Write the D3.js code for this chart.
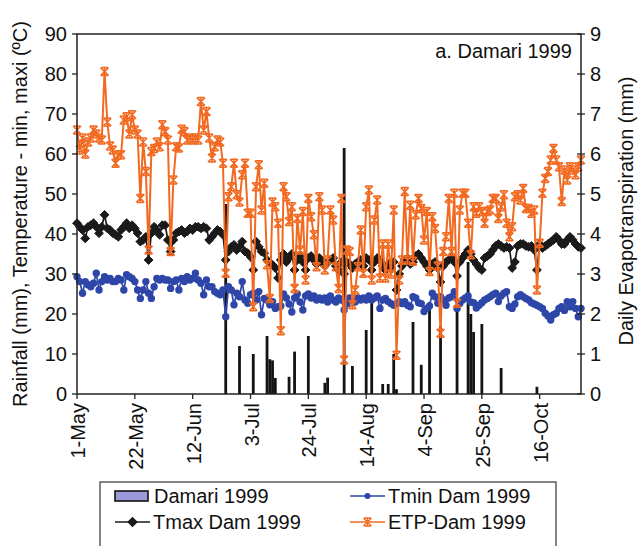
<!DOCTYPE html>
<html>

<head>
    <meta charset="utf-8">
    <title>Damari 1999</title>
    <script type="text/javascript" src="https://d3js.org/d3.v7.min.js"></script>

    <style>
        body {
            margin: 0;
            background: #fff;
        }

        svg {
            display: block;
        }

        text {
            font-family: "Liberation Sans", Arial, sans-serif;
            font-size: 20px;
            fill: #111;
        }
    </style>

</head>

<body>
</body>

<script type="text/javascript">
    // daily series, 1 May 1999 -> 31 Oct 1999 (184 days)
    var startDate = "1-May-1999";
    var endDate = "31-Oct-1999";

    var tmax = [
        42.7, 41.8, 41.0, 38.9, 41.8, 42.2, 42.7, 41.8, 40.2, 41.8, 44.8, 41.4, 41.0, 40.2, 39.8, 39.3, 41.0, 41.8, 42.7, 41.4,
        42.2, 41.4, 40.2, 38.1, 38.5, 39.3, 33.5, 40.2, 41.8, 41.0, 39.8, 42.2, 42.2, 38.5, 35.6, 38.5, 40.2,
        40.6, 41.0, 40.2, 40.6, 41.4, 41.0, 41.8, 41.8, 41.4, 41.8, 41.4, 38.5, 39.3, 40.2, 41.0, 40.6, 39.8, 33.5, 35.6, 36.8,
        37.3, 36.0, 36.8, 38.1, 35.6, 35.2, 34.3, 31.0, 38.1, 36.8, 35.6, 35.2, 33.5, 32.7, 32.3, 31.5, 29.0,
        33.5, 35, 33, 34, 35, 31, 33.5, 34.5, 33, 31, 34, 34.5, 33.5, 32.5, 34, 33, 32, 33, 33.5, 34,
        32, 31, 33, 30, 33, 32.5, 31.5, 32.5, 33, 33.5, 32, 34, 33.5, 31, 33, 34,
        33.5, 32, 31, 32.5, 31.5, 33, 26, 30, 32, 33.5, 34, 32.5, 33, 34.5, 35, 34, 33, 32, 31, 32.5,
        33, 31.5, 28, 32, 33, 33.5, 34, 33, 29.5, 33, 34, 35, 36, 35,
        33.5, 32.5, 31.5, 31, 34, 34.5, 35, 36, 37, 37.5, 37, 36.5, 36.8, 36.5, 31.5, 33, 37, 37.5, 37.5, 37,
        36.8, 37, 36, 31, 37.5, 36.5, 37, 37.5, 38, 38.5, 39.3, 38.5, 37.5, 37.5, 38.5, 39.3, 38.5, 37.5, 36.8, 36.5
    ];

    var tmin = [
        29.3, 28.1, 25.2, 28.1, 27.3, 26.8, 27.7, 30.2, 26.0, 28.1, 29.3, 28.5, 28.9, 28.1, 28.1, 28.9, 28.5, 26.0, 29.8, 29.3,
        28.9, 28.1, 26.0, 23.9, 26.0, 28.1, 25.2, 23.9, 26.8, 28.9, 28.5, 28.9, 28.5, 28.5, 26.4, 28.1, 28.5,
        26.0, 28.9, 28.1, 29.3, 28.5, 28.9, 30.2, 28.5, 27.7, 24.8, 28.5, 26.8, 26.8, 25.6, 25.2, 24.8, 26.0, 19.3, 26.8, 26.0,
        22.3, 25.2, 24.3, 28.1, 23.5, 22.7, 24.8, 25.2, 23.5, 25.6, 19.8, 23.9, 23.5, 22.3, 23.1, 21.4, 21.8,
        22, 25, 24, 22.5, 20.5, 24, 25, 23, 21, 24.5, 25, 24, 24.5, 23.5, 24, 23.5, 24, 23, 24.5, 23.5,
        23, 24, 23.5, 21, 22.5, 24, 23.5, 23, 24, 23.5, 24, 23.5, 24.5, 23.5, 24, 24.5,
        21.4, 23.5, 23.9, 23.1, 22.6, 22.2, 22.6, 23.1, 22.6, 23.1, 22.2, 21.8, 24.3, 24, 22.8, 22.6, 20.6, 21.4, 22, 25.2,
        24.3, 22.7, 24.3, 23.5, 22.2, 24, 24.3, 25.6, 21.4, 22.6, 23.5, 24, 24.5, 23,
        22.8, 21.5, 22.2, 22.8, 23.5, 23.9, 24.3, 24.8, 25.2, 23.1, 24.5, 25.2, 25.6, 21.8, 21.4, 22.5, 24.3, 24.8, 24.3, 23.9,
        23.5, 22.8, 22.5, 22.2, 21.8, 21.4, 20.2, 19.5, 18.5, 19.8, 20.2, 21.4, 21.8, 20.9, 23.1, 21.8, 23.1, 21.4, 19.3, 21.4
    ];

    var etp = [
        6.6, 6.1, 6.4, 6.0, 6.3, 6.4, 6.6, 6.5, 6.4, 6.35, 8.06, 6.8, 6.2, 6.1, 5.77, 5.98, 5.98, 6.85, 6.93, 6.5,
        6.98, 6.6, 6.5, 4.89, 6.3, 5.56, 3.6, 6.06, 6.14, 6.3, 6.18, 6.73, 6.56, 6.35, 3.56, 5.35, 6.18,
        6.15, 6.62, 6.56, 6.35, 6.4, 6.35, 6.4, 6.35, 7.31, 6.6, 7.06, 6.4, 5.9, 6.18, 6.35, 6.3, 5.77, 3.02, 4.93, 5.18,
        5.77, 4.98, 4.8, 5.48, 5.77, 4.52, 4.52, 2.18, 5.18, 5.73, 4.6, 5.27, 3.23, 2.39, 4.8, 4.68, 4.27,
        1.58, 5.18, 4.93, 4.31, 4.68, 2.64, 4.39, 3.6, 4.56, 2.85, 4.89, 4.43, 3.98, 3.18, 4.93, 4.6, 3.1, 3.35, 4.6, 4.35,
        3.18, 2.64, 4.89, 0.85, 3.6, 3.56, 2.23, 2.6, 3.18, 4.1, 3.02, 4.68, 5.1, 2.85, 4.35, 4.85,
        2.9, 3.75, 2.9, 3.75, 3.0, 4.6, 0.97, 2.85, 3.35, 5.06, 3.35, 4.72, 3.32, 4.48, 4.89, 4.64, 3.85, 4.56, 3.06, 4.43,
        4.14, 3.2, 1.52, 3.56, 3.93, 4.89, 3.56, 5.02, 2.27, 4.6, 5.02, 5.02, 4.27, 3.48, 4.68,
        4.52, 4.68, 4.56, 4.27, 4.56, 4.6, 4.89, 4.89, 4.39, 4.68, 4.98, 4.27, 3.93, 4.18, 4.93, 4.98, 4.85, 5.14, 4.64, 4.64,
        4.52, 4.6, 2.6, 3.77, 5.02, 5.39, 5.56, 5.85, 6.14, 5.85, 5.68, 4.81, 5.6, 5.35, 5.68, 5.6, 5.48, 5.68, 5.85
    ];

    // rainfall: only the rainy days (day number counted from 1 May) and the amount in mm
    var rainDay = [54, 59, 64, 69, 70, 71, 72, 77, 79, 84, 90, 91, 97, 100, 105, 107, 111, 113, 115, 116,
        122, 125, 128, 132, 138, 142, 143, 144, 147, 154, 167];
    var rainMm = [47.5, 12, 10, 14.5, 8.7, 8.4, 4, 4.3, 10.6, 14.5, 2.8, 4.1, 61.5, 7, 16, 23, 2.5, 2.5, 10, 1.2,
        18, 7.3, 23, 17, 21, 33, 20, 15.5, 17.5, 6.5, 1.8];

    var xTickLabels = ["1-May", "22-May", "12-Jun", "3-Jul", "24-Jul", "14-Aug", "4-Sep", "25-Sep", "16-Oct"];
    var leftTicks = [0, 10, 20, 30, 40, 50, 60, 70, 80, 90];
    var rightTicks = [0, 1, 2, 3, 4, 5, 6, 7, 8, 9];

    var w = 639;
    var h = 546;
    var margin = { left: 77, right: 58, top: 34, bottom: 152 };

    var parse = d3.timeParse("%d-%b-%Y");
    var day0 = parse(startDate);
    var dayOf = function(i) { return d3.timeDay.offset(day0, i); };

    var svg = d3.select("body")
        .append("svg")
        .attr("width", w)
        .attr("height", h);

    var x = d3.scaleTime()
        .domain([day0, parse(endDate)])
        .range([margin.left, w - margin.right]);

    var yL = d3.scaleLinear().domain([0, 90]).range([h - margin.bottom, margin.top]);
    var yR = d3.scaleLinear().domain([0, 9]).range([h - margin.bottom, margin.top]);

    var x0 = margin.left, x1 = w - margin.right;
    var yTop = margin.top, yBot = h - margin.bottom;

    // rainfall bars
    svg.append("g").selectAll("rect")
        .data(rainDay.map(function(d, i) { return { day: d, mm: rainMm[i] }; }))
        .enter()
        .append("rect")
        .attr("x", function(d) { return x(dayOf(d.day)) - 1.4; })
        .attr("width", 2.8)
        .attr("y", function(d) { return yL(d.mm); })
        .attr("height", function(d) { return yBot - yL(d.mm); })
        .attr("fill", "#141414");

    var black = "#1a1a1a", blue = "#2d46a8", orange = "#f26a21";

    var diamond = "M0,-4.4L4.4,0L0,4.4L-4.4,0Z";
    var star = "M-4,-4L4,4M-4,4L4,-4M0,-4L0,4M-3.4,-4L3.4,-4M-3.4,4L3.4,4";

    function drawSeries(values, yScale, color, width, marker) {
        var line = d3.line()
            .x(function(d, i) { return x(dayOf(i)); })
            .y(function(d) { return yScale(d); });
        var g = svg.append("g");
        g.append("path")
            .datum(values)
            .attr("d", line)
            .attr("fill", "none")
            .attr("stroke", color)
            .attr("stroke-width", width)
            .attr("stroke-linejoin", "round");
        var pts = g.selectAll(".pt")
            .data(values)
            .enter();
        if (marker === "circle") {
            pts.append("circle")
                .attr("cx", function(d, i) { return x(dayOf(i)); })
                .attr("cy", function(d) { return yScale(d); })
                .attr("r", 3.7)
                .attr("fill", color);
        } else {
            pts.append("path")
                .attr("transform", function(d, i) { return "translate(" + x(dayOf(i)) + "," + yScale(d) + ")"; })
                .attr("d", marker === "diamond" ? diamond : star)
                .attr("fill", marker === "diamond" ? color : "none")
                .attr("stroke", color)
                .attr("stroke-width", marker === "diamond" ? 1 : 1.5);
        }
    }

    drawSeries(tmax, yL, black, 1.7, "diamond");
    drawSeries(tmin, yL, blue, 1.7, "circle");
    drawSeries(etp, yR, orange, 2, "star");

    // frame
    svg.append("rect")
        .attr("x", x0).attr("y", yTop)
        .attr("width", x1 - x0).attr("height", yBot - yTop)
        .attr("fill", "none").attr("stroke", "#222").attr("stroke-width", 1.5);

    // left axis
    var gl = svg.append("g");
    gl.selectAll("line").data(leftTicks).enter().append("line")
        .attr("x1", x0 - 5).attr("x2", x0)
        .attr("y1", function(d) { return yL(d); }).attr("y2", function(d) { return yL(d); })
        .attr("stroke", "#222").attr("stroke-width", 1.3);
    gl.selectAll("text").data(leftTicks).enter().append("text")
        .attr("x", x0 - 10).attr("y", function(d) { return yL(d); })
        .attr("dy", "0.36em")
        .attr("text-anchor", "end")
        .text(function(d) { return d; });

    // right axis
    var gr = svg.append("g");
    gr.selectAll("line").data(rightTicks).enter().append("line")
        .attr("x1", x1 - 4).attr("x2", x1 + 4)
        .attr("y1", function(d) { return yR(d); }).attr("y2", function(d) { return yR(d); })
        .attr("stroke", "#222").attr("stroke-width", 1.3);
    gr.selectAll("text").data(rightTicks).enter().append("text")
        .attr("x", x1 + 9).attr("y", function(d) { return yR(d); })
        .attr("dy", "0.36em")
        .text(function(d) { return d; });

    // bottom axis
    var gb = svg.append("g");
    gb.selectAll("line").data(xTickLabels).enter().append("line")
        .attr("x1", function(d) { return x(parse(d + "-1999")); })
        .attr("x2", function(d) { return x(parse(d + "-1999")); })
        .attr("y1", yBot).attr("y2", yBot + 5)
        .attr("stroke", "#222").attr("stroke-width", 1.3);
    gb.selectAll("text").data(xTickLabels).enter().append("text")
        .attr("transform", function(d) {
            return "translate(" + (x(parse(d + "-1999")) + 8) + "," + (yBot + 9) + ") rotate(-90)";
        })
        .attr("text-anchor", "end")
        .text(function(d) { return d; });

    // axis titles
    svg.append("text")
        .attr("transform", "translate(27," + ((yTop + yBot) / 2) + ") rotate(-90)")
        .attr("text-anchor", "middle")
        .text("Rainfall (mm), Temperature - min, maxi (\u00baC)");

    svg.append("text")
        .attr("transform", "translate(633," + ((yTop + yBot) / 2 - 3) + ") rotate(-90)")
        .attr("text-anchor", "middle")
        .text("Daily Evapotranspiration (mm)");

    svg.append("text")
        .attr("x", x1 - 9).attr("y", 58)
        .attr("text-anchor", "end")
        .text("a. Damari 1999");

    // legend
    var lg = svg.append("g");
    lg.append("rect")
        .attr("x", 100).attr("y", 482).attr("width", 456).attr("height", 80)
        .attr("fill", "#fff").attr("stroke", "#333").attr("stroke-width", 1.2);

    var legendItems = [
        { label: "Damari 1999", kind: "bar", col: 0, row: 0 },
        { label: "Tmin Dam 1999", kind: "circle", color: blue, col: 1, row: 0 },
        { label: "Tmax Dam 1999", kind: "diamond", color: black, col: 0, row: 1 },
        { label: "ETP-Dam 1999", kind: "star", color: orange, col: 1, row: 1 }
    ];

    var item = lg.selectAll(".item")
        .data(legendItems)
        .enter()
        .append("g")
        .attr("transform", function(d) {
            return "translate(" + (d.col === 0 ? 115 : 350) + "," + (d.row === 0 ? 496 : 522) + ")";
        });

    item.each(function(d) {
        var g = d3.select(this);
        if (d.kind === "bar") {
            g.append("rect")
                .attr("x", 0).attr("y", -5).attr("width", 33).attr("height", 10)
                .attr("fill", "#9b9bdc").attr("stroke", "#111").attr("stroke-width", 1.6);
        } else {
            g.append("line")
                .attr("x1", 0).attr("x2", 35).attr("y1", 0).attr("y2", 0)
                .attr("stroke", d.color).attr("stroke-width", 1.6);
            if (d.kind === "circle") {
                g.append("circle").attr("cx", 17.5).attr("cy", 0).attr("r", 3).attr("fill", d.color);
            } else {
                g.append("path")
                    .attr("transform", "translate(17.5,0)")
                    .attr("d", d.kind === "diamond" ? diamond : star)
                    .attr("fill", d.kind === "diamond" ? d.color : "none")
                    .attr("stroke", d.color).attr("stroke-width", 1.3);
            }
        }
        g.append("text")
            .attr("x", d.kind === "bar" ? 39 : 38)
            .attr("y", 0)
            .attr("dy", "0.36em")
            .text(d.label);
    });
</script>

</html>
